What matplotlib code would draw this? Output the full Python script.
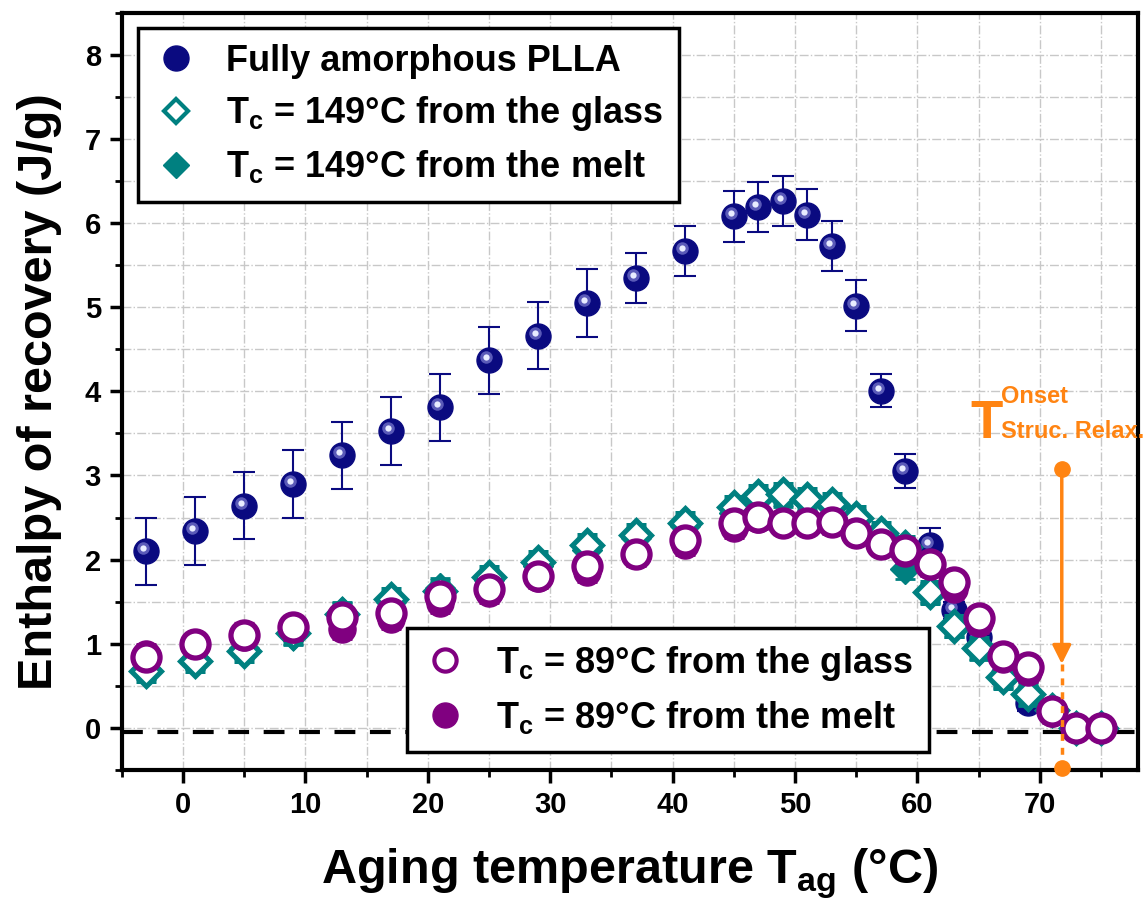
import numpy as np
import matplotlib
matplotlib.use("Agg")
import matplotlib.pyplot as plt
import matplotlib.ticker as ticker
import matplotlib.transforms as mtransforms
from matplotlib.lines import Line2D

plt.rcParams['font.family'] = 'Liberation Sans'
plt.rcParams['font.weight'] = 'bold'
plt.rcParams['mathtext.fontset'] = 'custom'
plt.rcParams['mathtext.rm'] = 'Liberation Sans:bold'
plt.rcParams['mathtext.bf'] = 'Liberation Sans:bold'

# aging temperatures (°C)
t_ag = [-3, 1, 5, 9, 13, 17, 21, 25, 29, 33, 37, 41, 45, 47, 49, 51, 53, 55,
        57, 59, 61, 63, 65, 67, 69, 71, 73, 75]

# fully amorphous PLLA
h_amorph = [2.10, 2.34, 2.64, 2.90, 3.24, 3.53, 3.81, 4.37, 4.66, 5.05, 5.35, 5.67,
            6.08, 6.19, 6.26, 6.10, 5.73, 5.02, 4.01, 3.05, 2.17, 1.40, 1.08, 0.62,
            0.30, 0.20, 0.0, 0.0]
e_amorph = [0.4, 0.4, 0.4, 0.4, 0.4, 0.4, 0.4, 0.4, 0.4, 0.4, 0.3, 0.3,
            0.3, 0.3, 0.3, 0.3, 0.3, 0.3, 0.2, 0.2, 0.2, 0.1, 0.1, 0.1,
            0.1, 0.1, 0.05, 0.05]

# Tc = 149 °C
h_149_glass = [0.68, 0.80, 0.92, 1.13, 1.35, 1.53, 1.63, 1.79, 1.97, 2.17, 2.29, 2.44,
               2.62, 2.76, 2.78, 2.72, 2.66, 2.50, 2.32, 2.15, 1.61, 1.21, 0.95, 0.60,
               0.40, 0.21, 0.0, 0.0]
h_149_melt = [0.70, 0.82, 0.95, 1.10, 1.38, 1.50, 1.66, 1.76, 1.93, 2.12, 2.26, 2.40,
              2.55, 2.72, 2.75, 2.70, 2.62, 2.47, 2.28, 1.89, 1.60, 1.20, 0.93, 0.60,
              0.38, 0.20, 0.0, 0.0]
e_149 = [0.12] * len(t_ag)

# Tc = 89 °C
h_89_glass = [0.84, 1.00, 1.11, 1.20, 1.32, 1.36, 1.57, 1.65, 1.81, 1.93, 2.07, 2.23,
              2.44, 2.51, 2.44, 2.44, 2.45, 2.32, 2.19, 2.12, 1.95, 1.73, 1.31, 0.86,
              0.72, 0.20, 0.0, 0.0]
h_89_melt = [0.88, 0.98, 1.08, 1.17, 1.18, 1.30, 1.49, 1.60, 1.78, 1.85, 2.05, 2.17,
             2.38, 2.48, 2.42, 2.42, 2.43, 2.30, 2.17, 2.08, 1.93, 1.65, 1.25, 0.82,
             0.66, 0.18, 0.0, 0.0]
e_89 = [0.12] * len(t_ag)

# onset of structural relaxation
t_onset = 71.8
y_onset_top = 3.08
y_arrow_tip = 0.76
y_onset_bot = -0.48

navy = '#0a0a80'
teal = '#008080'
purple = '#800080'
orange = '#ff8412'

fig = plt.figure(figsize=(11.48, 9.08), dpi=100)
ax = fig.add_axes([0.106, 0.152, 0.885, 0.834])

# navy spheres
ax.errorbar(t_ag, h_amorph, yerr=e_amorph, fmt='o', color=navy, ms=18, mec=navy,
            ecolor=navy, elinewidth=1.5, capsize=8, capthick=1.5, zorder=3)
hl1 = mtransforms.offset_copy(ax.transData, fig=fig, x=-3, y=3, units='dots')
ax.plot(t_ag, h_amorph, 'o', ms=9, color='#5a5ab8', mec='none', transform=hl1, zorder=3.1)
ax.plot(t_ag, h_amorph, 'o', ms=4.5, color='#e8ecff', mec='none', transform=hl1, zorder=3.2)

# Tc = 149 °C
ax.errorbar(t_ag, h_149_melt, yerr=e_149, fmt='D', color=teal, ms=15, mec=teal,
            ecolor=teal, elinewidth=2, capsize=7, capthick=2, zorder=4)
ax.errorbar(t_ag, h_149_glass, yerr=e_149, fmt='D', color=teal, ms=15, mfc='white',
            mec=teal, mew=3.6, ecolor=teal, elinewidth=2, capsize=7, capthick=2, zorder=5)

# Tc = 89 °C
ax.errorbar(t_ag, h_89_melt, yerr=e_89, fmt='o', color=purple, ms=19.5, mec=purple,
            ecolor=purple, elinewidth=2, capsize=7, capthick=2, zorder=6)
ax.errorbar(t_ag, h_89_glass, yerr=e_89, fmt='o', color=purple, ms=19.5, mfc='white',
            mec=purple, mew=3.8, ecolor=purple, elinewidth=2, capsize=7, capthick=2, zorder=7)

# baseline
ax.axhline(-0.05, color='black', lw=3, ls=(0, (5, 3.5)), zorder=2)

# onset annotation
ax.annotate('', xy=(t_onset, y_arrow_tip), xytext=(t_onset, y_onset_top),
            arrowprops=dict(arrowstyle='-|>', color=orange, lw=2.5,
                            mutation_scale=28, shrinkA=0, shrinkB=0), zorder=8)
ax.plot([t_onset, t_onset], [y_arrow_tip, y_onset_bot], color=orange, lw=2.5,
        ls=(0, (2, 2)), zorder=8)
ax.plot([t_onset, t_onset], [y_onset_top, y_onset_bot], 'o', color=orange, ms=11,
        zorder=9, clip_on=False)
ax.text(64.3, 3.45, 'T', color=orange, fontsize=38, fontweight='bold', ha='left', va='baseline')
ax.text(66.8, 3.86, 'Onset', color=orange, fontsize=17, fontweight='bold', ha='left', va='baseline')
ax.text(66.8, 3.45, 'Struc. Relax.', color=orange, fontsize=17, fontweight='bold',
        ha='left', va='baseline', clip_on=False)

ax.set_xlim(-5, 78)
ax.set_ylim(-0.5, 8.5)
ax.xaxis.set_major_locator(ticker.MultipleLocator(10))
ax.xaxis.set_minor_locator(ticker.MultipleLocator(5))
ax.yaxis.set_major_locator(ticker.MultipleLocator(1))
ax.yaxis.set_minor_locator(ticker.MultipleLocator(0.5))
ax.grid(True, which='both', color='#c8c8c8', ls='-.', lw=1)
ax.set_axisbelow(True)

ax.tick_params(which='major', direction='out', length=9, width=2.5, labelsize=21, pad=6)
ax.tick_params(which='minor', direction='out', length=5, width=2)
for lab in ax.get_xticklabels() + ax.get_yticklabels():
    lab.set_fontweight('bold')
for sp in ax.spines.values():
    sp.set_linewidth(3)

ax.set_xlabel(r'Aging temperature T$_\mathrm{ag}$ (°C)', fontsize=35, fontweight='bold', labelpad=20)
ax.set_ylabel('Enthalpy of recovery (J/g)', fontsize=35, fontweight='bold', labelpad=16)

h1 = [Line2D([], [], ls='none', marker='o', ms=18, color=navy),
      Line2D([], [], ls='none', marker='D', ms=12, mfc='white', mec=teal, mew=3),
      Line2D([], [], ls='none', marker='D', ms=13, color=teal)]
l1 = ['Fully amorphous PLLA',
      r'T$_\mathrm{c}$ = 149°C from the glass',
      r'T$_\mathrm{c}$ = 149°C from the melt']
leg1 = ax.legend(h1, l1, loc='upper left', bbox_to_anchor=(0.016, 0.980), borderaxespad=0,
                 prop={'size': 26, 'weight': 'bold'}, frameon=True, fancybox=False,
                 shadow=False, edgecolor='black', framealpha=1, handletextpad=0.8,
                 labelspacing=0.42, borderpad=0.45, handlelength=1.2)
leg1.get_frame().set_linewidth(2.5)
ax.add_artist(leg1)

h2 = [Line2D([], [], ls='none', marker='o', ms=16, mfc='white', mec=purple, mew=3),
      Line2D([], [], ls='none', marker='o', ms=18, color=purple)]
l2 = [r'T$_\mathrm{c}$ = 89°C from the glass',
      r'T$_\mathrm{c}$ = 89°C from the melt']
leg2 = ax.legend(h2, l2, loc='upper left', bbox_to_anchor=(0.281, 0.188), borderaxespad=0,
                 prop={'size': 26, 'weight': 'bold'}, frameon=True, fancybox=False,
                 edgecolor='black', framealpha=1, handletextpad=0.8,
                 labelspacing=0.45, borderpad=0.45, handlelength=1.2)
leg2.get_frame().set_linewidth(2.5)
leg1.set_zorder(10)
leg2.set_zorder(10)

fig.savefig('out.png', dpi=100)
